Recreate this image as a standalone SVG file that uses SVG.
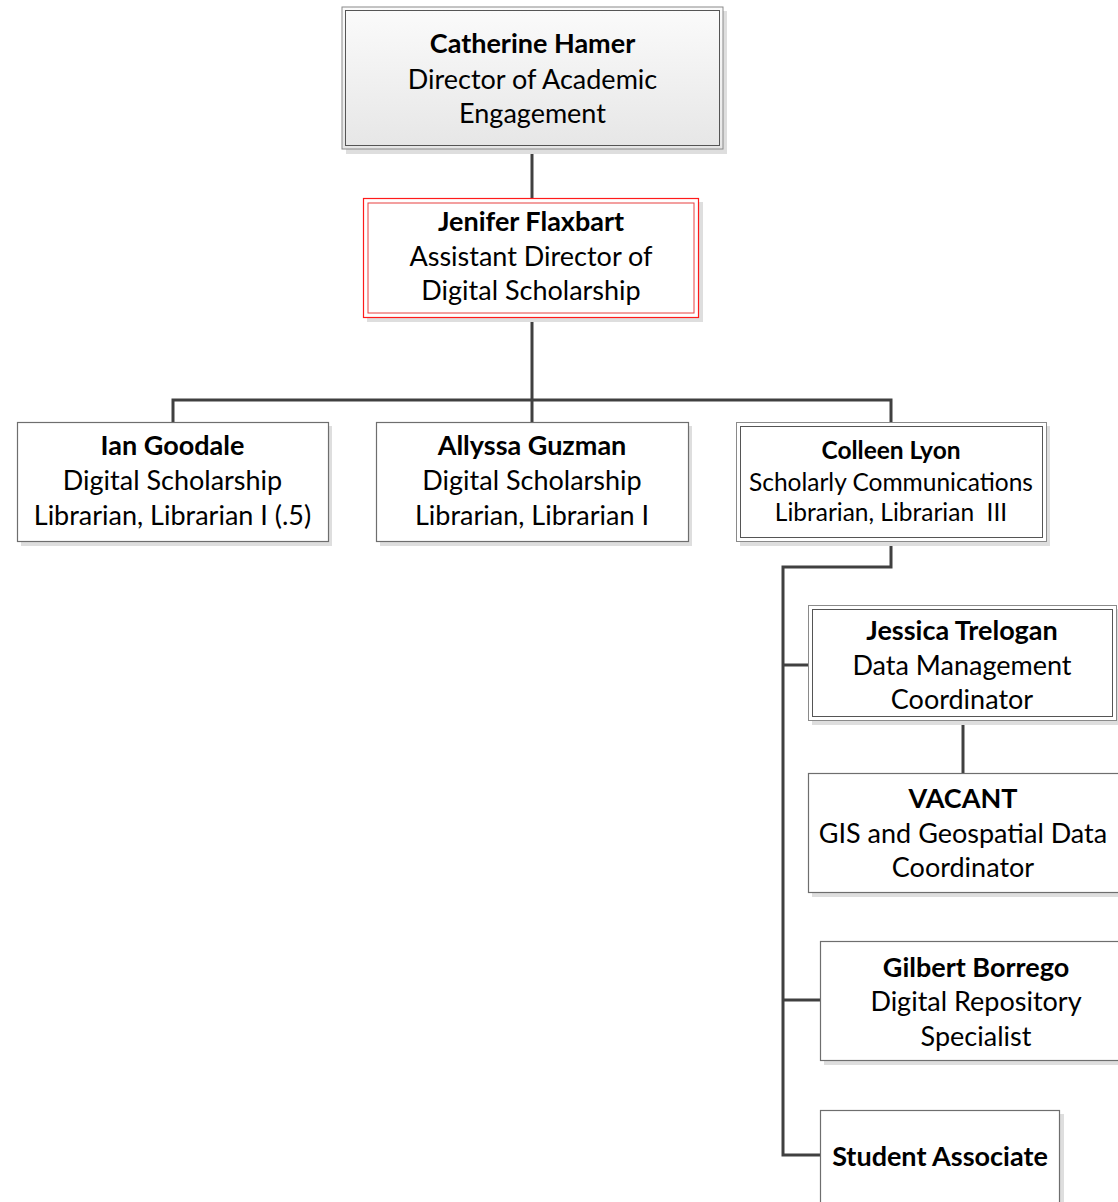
<svg xmlns="http://www.w3.org/2000/svg" width="1118" height="1202" viewBox="0 0 1118 1202">
<defs>
<linearGradient id="gTop" x1="0" y1="0" x2="0" y2="1">
<stop offset="0" stop-color="#fbfbfb"/>
<stop offset="1" stop-color="#e6e6e6"/>
</linearGradient>
</defs>
<style>
.sh{fill:#dedede}
.box{fill:#ffffff;stroke:#6e6e6e;stroke-width:1.2}
.outer{fill:#ffffff;stroke:#8a8a8a;stroke-width:1}
.inner{fill:none;stroke:#555555;stroke-width:1}
.rout{fill:#ffffff;stroke:#ff1a1a;stroke-width:1.2}
.rin{fill:none;stroke:#e84040;stroke-width:1}
.conn{fill:none;stroke:#404040;stroke-width:3}
text{font-family:Lato,"Open Sans","Liberation Sans",sans-serif;fill:#000;text-anchor:middle}
.n{font-weight:bold;font-size:27px}
.t{font-size:27px}
.ns{font-weight:bold;font-size:24.5px}
.ts{font-size:24.5px}
</style>
<g id="connectors">
<path class="conn" d="M532,149 V198"/>
<path class="conn" d="M532,318 V400 M173,422 V400 H891 V422 M532,400 V422"/>
<path class="conn" d="M891,542 V567 H783 V1155 H820 M783,665 H808 M783,1000 H820"/>
<path class="conn" d="M963,720 V773"/>
</g>
<g id="catherine">
<rect class="sh" x="346" y="11" width="381" height="143"/>
<rect x="342" y="7" width="381" height="142" fill="url(#gTop)" stroke="#8a8a8a" stroke-width="1"/>
<rect class="inner" x="345.5" y="10.5" width="374" height="135"/>
<text class="n" x="532.5" y="53">Catherine Hamer</text>
<text class="t" x="532.5" y="89">Director of Academic</text>
<text class="t" x="532.5" y="123">Engagement</text>
</g>
<g id="jenifer">
<rect class="sh" x="367" y="202" width="336" height="120"/>
<rect class="rout" x="363.5" y="198.5" width="335" height="119"/>
<rect class="rin" x="368" y="203" width="326" height="110"/>
<text class="n" x="531" y="231">Jenifer Flaxbart</text>
<text class="t" x="531" y="266">Assistant Director of</text>
<text class="t" x="531" y="300">Digital Scholarship</text>
</g>
<g id="ian">
<rect class="sh" x="21" y="426" width="311" height="120"/>
<rect class="box" x="17.5" y="422.5" width="311" height="119"/>
<text class="n" x="172.5" y="455">Ian Goodale</text>
<text class="t" x="172.5" y="490">Digital Scholarship</text>
<text class="t" x="172.5" y="525">Librarian, Librarian I (.5)</text>
</g>
<g id="allyssa">
<rect class="sh" x="380" y="426" width="312" height="120"/>
<rect class="box" x="376.5" y="422.5" width="312" height="119"/>
<text class="n" x="532" y="455">Allyssa Guzman</text>
<text class="t" x="532" y="490">Digital Scholarship</text>
<text class="t" x="532" y="525">Librarian, Librarian I</text>
</g>
<g id="colleen">
<rect class="sh" x="740" y="426" width="310" height="120"/>
<rect class="outer" x="736.5" y="422.5" width="310" height="119"/>
<rect class="inner" x="740.5" y="426.5" width="302" height="111"/>
<text class="ns" x="891" y="459">Colleen Lyon</text>
<text class="ts" x="891" y="491">Scholarly Communications</text>
<text class="ts" x="891" y="521" xml:space="preserve">Librarian, Librarian  III</text>
</g>
<g id="jessica">
<rect class="sh" x="812" y="609" width="308" height="116"/>
<rect class="outer" x="808.5" y="605.5" width="308" height="115"/>
<rect class="inner" x="812.5" y="609.5" width="300" height="107"/>
<text class="n" x="962" y="640">Jessica Trelogan</text>
<text class="t" x="962" y="675">Data Management</text>
<text class="t" x="962" y="709">Coordinator</text>
</g>
<g id="vacant">
<rect class="sh" x="812" y="777" width="312" height="120"/>
<rect class="box" x="808.5" y="773.5" width="312" height="119"/>
<text class="n" x="963" y="808">VACANT</text>
<text class="t" x="963" y="843">GIS and Geospatial Data</text>
<text class="t" x="963" y="877">Coordinator</text>
</g>
<g id="gilbert">
<rect class="sh" x="824" y="945" width="312" height="120"/>
<rect class="box" x="820.5" y="941.5" width="312" height="119"/>
<text class="n" x="976" y="977">Gilbert Borrego</text>
<text class="t" x="976" y="1011">Digital Repository</text>
<text class="t" x="976" y="1046">Specialist</text>
</g>
<g id="student">
<rect class="sh" x="824" y="1114" width="240" height="100"/>
<rect class="box" x="820.5" y="1110.5" width="239" height="100"/>
<text class="n" x="940" y="1166">Student Associate</text>
</g>
</svg>
